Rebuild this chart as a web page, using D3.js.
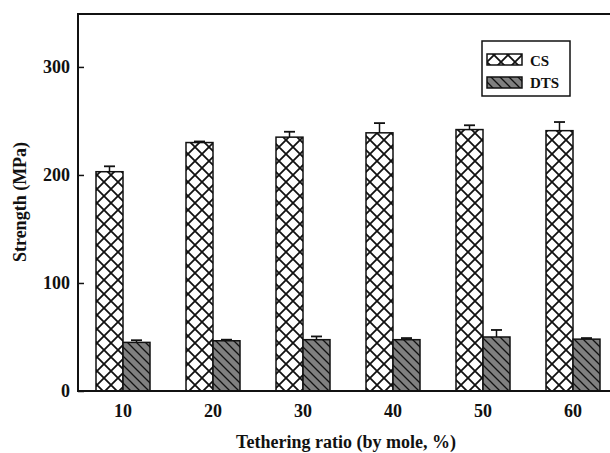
<!DOCTYPE html>
<html lang="en">
<head>
    <meta charset="UTF-8">
    <title>Strength vs tethering ratio</title>
    <style>
        html, body {
            margin: 0;
            padding: 0;
            background: #fff;
            overflow: hidden;
        }
        #chart {
            display: block;
        }
        svg text {
            font-family: "Liberation Serif", "Times New Roman", serif;
            font-weight: bold;
            fill: #111;
        }
    </style>
</head>
<body>
<svg id="chart"></svg>

<script src="https://d3js.org/d3.v7.min.js"></script>
<script>
    var categories = ["10", "20", "30", "40", "50", "60"];
    var seriesNames = ["CS", "DTS"];
    var csValues = [203, 230, 235, 239, 242, 241];
    var csErrors = [5, 1, 5, 9, 4, 8];
    var dtsValues = [45, 46.5, 47.5, 47.5, 50, 48];
    var dtsErrors = [2, 1, 3, 1.5, 6.5, 1];
    var yTicks = [0, 100, 200, 300];

    var W = 610, H = 453;
    var margin = { top: 14, left: 78 };
    var plotW = 540, plotH = 377;
    // the right part of the frame falls outside the picture
    var visibleW = W - margin.left;

    var svg = d3.select("#chart").attr("width", W).attr("height", H);

    // hatch patterns
    var defs = svg.append("defs");
    var cross = defs.append("pattern")
        .attr("id", "cross")
        .attr("patternUnits", "userSpaceOnUse")
        .attr("width", 14).attr("height", 14)
        .attr("x", margin.left + 18).attr("y", 0);
    cross.append("rect").attr("width", 14).attr("height", 14).attr("fill", "#fff");
    cross.append("path")
        .attr("d", "M0,0L14,14M14,0L0,14")
        .attr("stroke", "#111").attr("stroke-width", 1.8);

    var diag = defs.append("pattern")
        .attr("id", "diag")
        .attr("patternUnits", "userSpaceOnUse")
        .attr("width", 9).attr("height", 9);
    diag.append("rect").attr("width", 9).attr("height", 9).attr("fill", "#808080");
    diag.append("path")
        .attr("d", "M-1,-1L10,10M-3,6L3,12M6,-3L12,3")
        .attr("stroke", "#111").attr("stroke-width", 1.3);

    var fills = { CS: "url(#cross)", DTS: "url(#diag)" };

    var g = svg.append("g")
        .attr("transform", "translate(" + margin.left + "," + margin.top + ")");

    var x0 = d3.scaleBand()
        .domain(categories)
        .range([0, plotW])
        .paddingInner(0.4)
        .paddingOuter(0.2);

    var x1 = d3.scaleBand()
        .domain(seriesNames)
        .range([0, x0.bandwidth()]);

    var y = d3.scaleLinear()
        .domain([0, 349])
        .range([plotH, 0]);

    var data = [];
    categories.forEach(function (c, i) {
        data.push({ cat: c, s: "CS", v: csValues[i], e: csErrors[i] });
        data.push({ cat: c, s: "DTS", v: dtsValues[i], e: dtsErrors[i] });
    });

    // error bars (upper only)
    var eb = g.selectAll(".err").data(data).enter().append("g").attr("class", "err");
    eb.append("line")
        .attr("x1", d => x0(d.cat) + x1(d.s) + x1.bandwidth() / 2)
        .attr("x2", d => x0(d.cat) + x1(d.s) + x1.bandwidth() / 2)
        .attr("y1", d => y(d.v))
        .attr("y2", d => y(d.v + d.e))
        .attr("stroke", "#111").attr("stroke-width", 1.5);
    eb.append("line")
        .attr("x1", d => x0(d.cat) + x1(d.s) + x1.bandwidth() / 2 - 5.5)
        .attr("x2", d => x0(d.cat) + x1(d.s) + x1.bandwidth() / 2 + 5.5)
        .attr("y1", d => y(d.v + d.e))
        .attr("y2", d => y(d.v + d.e))
        .attr("stroke", "#111").attr("stroke-width", 1.8);

    g.selectAll(".bar")
        .data(data)
        .enter().append("rect")
        .attr("class", "bar")
        .attr("x", d => x0(d.cat) + x1(d.s))
        .attr("y", d => y(d.v))
        .attr("width", x1.bandwidth())
        .attr("height", d => plotH - y(d.v))
        .attr("fill", d => fills[d.s])
        .attr("stroke", "#111")
        .attr("stroke-width", 1.5);

    // axes
    var yAxis = g.append("g")
        .call(d3.axisRight(y).tickValues(yTicks).tickSize(6).tickFormat(d3.format("d")));
    yAxis.select(".domain").remove();
    yAxis.selectAll("line").attr("stroke", "#111").attr("stroke-width", 1.5);
    yAxis.selectAll("text")
        .attr("x", -8)
        .attr("text-anchor", "end")
        .attr("font-size", 18);

    var xAxis = g.append("g")
        .attr("transform", "translate(0," + plotH + ")")
        .call(d3.axisBottom(x0).tickSize(0));
    xAxis.select(".domain").remove();
    xAxis.selectAll("text")
        .attr("dy", "1.3em")
        .attr("font-size", 18);

    // frame: left, bottom, top
    g.append("path")
        .attr("d", d3.line()([[visibleW, 0], [0, 0], [0, plotH], [visibleW, plotH]]))
        .attr("fill", "none")
        .attr("stroke", "#111")
        .attr("stroke-width", 2);

    // axis titles
    svg.append("text")
        .attr("x", margin.left + plotW / 2 - 2)
        .attr("y", 448)
        .attr("text-anchor", "middle")
        .attr("font-size", 18)
        .text("Tethering ratio (by mole, %)");

    svg.append("text")
        .attr("transform", "translate(26," + (margin.top + y(175)) + ") rotate(-90)")
        .attr("text-anchor", "middle")
        .attr("font-size", 18)
        .text("Strength (MPa)");

    // legend
    var lg = svg.append("g").attr("transform", "translate(482,41)");
    lg.append("rect")
        .attr("width", 88).attr("height", 55)
        .attr("fill", "#fff")
        .attr("stroke", "#111").attr("stroke-width", 1.5);
    seriesNames.forEach(function (s, i) {
        lg.append("rect")
            .attr("x", 5).attr("y", 13 + i * 23)
            .attr("width", 35).attr("height", 11)
            .attr("fill", fills[s])
            .attr("stroke", "#111").attr("stroke-width", 1.5);
        lg.append("text")
            .attr("x", 48).attr("y", 25 + i * 22)
            .attr("font-size", 15)
            .text(s);
    });
</script>
</body>
</html>
